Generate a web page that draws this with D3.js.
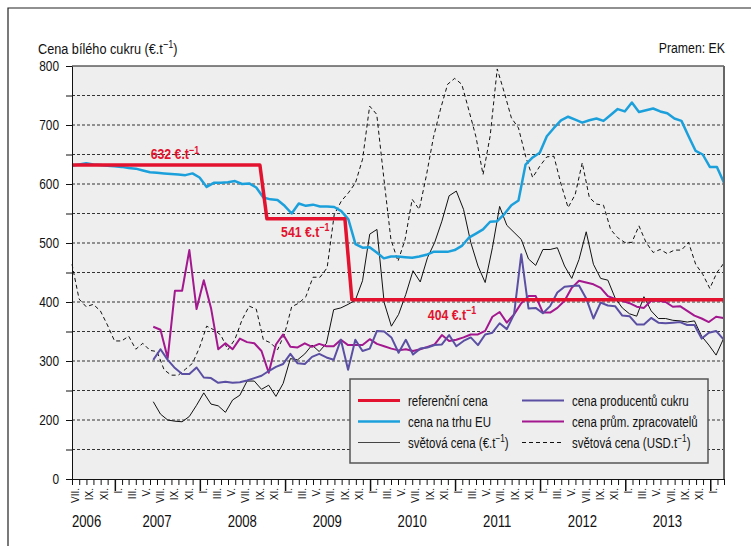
<!DOCTYPE html>
<html>
<head>
<meta charset="utf-8">
<script src="https://cdn.jsdelivr.net/npm/d3@7"></script>
<style>
	body { margin: 0; background: #fff; }
	svg text { font-family: "Liberation Sans", Arial, sans-serif; fill: #111; }
</style>
</head>
<body>
<svg id="chart" width="751" height="546"></svg>
<script>
// reference price (step line), EUR/t
const refDates = ["2006-07-01", "2008-09-15", "2008-10-15", "2009-09-15", "2009-10-15", "2014-03-01"];
const refValues = [632, 632, 541, 541, 404, 404];
const refLabelValues = [632, 541, 404];
const refLabelDates = ["2007-06-04", "2008-12-15", "2010-09-06"];

// monthly series from VII/2006 to III/2014
const euStart = "2006-07-01", euEnd = "2014-03-01";
const euMarketValues = [631, 633, 635, 633, 632, 631, 630, 629, 627, 626, 623, 620, 619, 618, 617, 616, 615, 618, 611, 595,
	602, 602, 603, 605, 600, 601, 594, 577, 574, 573, 563, 550, 567, 563, 565, 562, 562, 561, 554, 540,
	498, 492, 493, 484, 474, 477, 477, 476, 475, 477, 480, 485, 485, 485, 488, 495, 509, 516, 523, 536,
	537, 549, 564, 572, 633, 645, 653, 681, 695, 708, 714, 709, 704, 708, 711, 707, 717, 727, 723, 738,
	722, 725, 728, 723, 720, 711, 707, 681, 656, 650, 629, 629, 602];
const worldUsdValues = [464, 405, 392, 396, 385, 361, 334, 334, 342, 320, 330, 318, 316, 285, 276, 276, 286, 296, 323, 359,
	353, 344, 319, 337, 370, 393, 388, 336, 331, 319, 346, 392, 398, 409, 442, 442, 458, 548, 571, 585,
	602, 642, 732, 718, 610, 506, 469, 506, 574, 557, 614, 679, 727, 769, 779, 769, 725, 680, 616, 681,
	795, 755, 712, 695, 647, 611, 630, 646, 647, 600, 560, 582, 636, 577, 566, 564, 523, 509, 501, 501,
	529, 501, 484, 489, 482, 488, 488, 501, 464, 447, 423, 450, 466];

// series from mid VI/2007 to end of II/2014
const worldStart = "2007-06-15", worldEnd = "2014-02-26";
const worldEurValues = [231, 210, 200, 196, 194, 206, 225, 246, 227, 224, 213, 234, 242, 266, 266, 252, 259, 240, 262, 304,
	302, 312, 327, 316, 330, 387, 390, 396, 403, 436, 515, 523, 399, 359, 379, 413, 453, 434, 475, 501,
	537, 580, 588, 557, 501, 461, 433, 492, 562, 530, 518, 506, 473, 462, 489, 489, 492, 461, 440, 472,
	519, 464, 440, 437, 407, 390, 380, 376, 409, 385, 372, 372, 369, 368, 366, 368, 342, 327, 310, 337];
const producerValues = [302, 320, 302, 288, 278, 278, 289, 272, 271, 263, 265, 263, 264, 267, 271, 275, 283, 290, 295, 312,
	296, 295, 307, 312, 306, 302, 336, 285, 336, 317, 321, 351, 350, 340, 314, 336, 311, 321, 323, 327,
	328, 344, 325, 334, 340, 327, 345, 348, 364, 354, 379, 481, 389, 390, 381, 393, 416, 426, 427, 428,
	406, 372, 399, 394, 393, 377, 376, 362, 362, 373, 365, 364, 365, 366, 361, 361, 338, 348, 351, 337];
const processorValues = [358, 353, 305, 419, 419, 488, 388, 437, 390, 320, 330, 320, 338, 332, 330, 317, 280, 328, 345, 324,
	323, 330, 324, 329, 325, 325, 336, 327, 327, 327, 337, 329, 325, 321, 318, 320, 317, 320, 324, 328,
	344, 334, 336, 340, 345, 345, 351, 375, 383, 365, 379, 398, 410, 410, 382, 382, 390, 402, 424, 436,
	433, 430, 424, 410, 405, 402, 398, 392, 390, 402, 402, 400, 392, 393, 385, 377, 372, 366, 375, 373];

const yTickValues = [0, 200, 300, 400, 500, 600, 700, 800];
const gridValues = [100, 200, 250, 300, 350, 400, 450, 500, 550, 600, 650, 700, 750];
const monthNames = ["I.", "II.", "III.", "IV.", "V.", "VI.", "VII.", "VIII.", "IX.", "X.", "XI.", "XII."];

const legendItems = [
	{ key: "ref", label: "referenční cena" },
	{ key: "eu", label: "cena na trhu EU" },
	{ key: "worldEur", label: "světová cena (€.t^−1^)" },
	{ key: "producer", label: "cena producentů cukru" },
	{ key: "processor", label: "cena prům. zpracovatelů" },
	{ key: "worldUsd", label: "světová cena (USD.t^−1^)" },
];
const styles = {
	ref: { color: "#e3122e", width: 3.5, dash: null },
	eu: { color: "#1ca0dc", width: 2.5, dash: null },
	worldEur: { color: "#111", width: 1, dash: null },
	producer: { color: "#5a4fa3", width: 2, dash: null },
	processor: { color: "#a3178f", width: 2, dash: null },
	worldUsd: { color: "#111", width: 1, dash: "4,3" },
};

const margin = { top: 66, right: 27, bottom: 67, left: 72 };
const fullWidth = 751, fullHeight = 546;
const width = fullWidth - margin.left - margin.right;
const height = fullHeight - margin.top - margin.bottom;
const plotBg = "#edeeed";
const narrow = 0.82; // condensed look, like Arial Narrow

const parse = d3.utcParse("%Y-%m-%d");
const svg = d3.select("#chart");

// place a text at (x, y) with horizontally condensed glyphs
function place(sel, x, y) {
	return sel.attr("transform", "translate(" + x + "," + y + ") scale(" + narrow + ",1)");
}

// rich text: parts between ^ ... ^ are superscript
function richText(sel, str) {
	const parts = str.split("^");
	parts.forEach((p, i) => {
		if (!p) return;
		if (i % 2 == 1)
			sel.append("tspan").attr("font-size", "0.72em").attr("dy", "-0.5em").text(p);
		else
			sel.append("tspan").attr("dy", i > 0 ? "0.36em" : null).text(p);
	});
	return sel;
}

function spread(start, end, values) {
	const t0 = parse(start).getTime(), t1 = parse(end).getTime();
	const step = (t1 - t0) / (values.length - 1);
	return values.map((v, i) => ({ date: new Date(t0 + i * step), value: v }));
}

// outer frame
svg.append("path")
	.attr("d", "M8," + fullHeight + "V8H" + fullWidth)
	.attr("fill", "none")
	.attr("stroke", "#222")
	.attr("stroke-width", 1.2);

svg.append("text")
	.call(place, 38, 54)
	.attr("font-size", 15.5)
	.call(richText, "Cena bílého cukru (€.t^−1^)");
svg.append("text")
	.call(place, 725, 53)
	.attr("text-anchor", "end")
	.attr("font-size", 15)
	.text("Pramen: EK");

const g = svg.append("g")
	.attr("transform", "translate(" + margin.left + "," + margin.top + ")");

const x = d3.scaleUtc()
	.domain([parse(euStart), parse(euEnd)])
	.range([0, width]);
const y = d3.scaleLinear()
	.domain([0, 200, 800])
	.range([height, height - 59, 0]);

g.append("rect")
	.attr("width", width).attr("height", height)
	.attr("fill", plotBg);

// grid
g.selectAll(".grid")
	.data(gridValues)
	.enter()
	.append("line")
	.classed("grid", true)
	.attr("x1", 0).attr("x2", width)
	.attr("y1", d => y(d)).attr("y2", d => y(d))
	.attr("stroke", "#333")
	.attr("stroke-width", 1)
	.attr("stroke-dasharray", "3,2");

// series
const line = d3.line().x(d => x(d.date)).y(d => y(d.value));
const series = [
	{ key: "worldUsd", data: spread(euStart, euEnd, worldUsdValues) },
	{ key: "worldEur", data: spread(worldStart, worldEnd, worldEurValues) },
	{ key: "processor", data: spread(worldStart, worldEnd, processorValues) },
	{ key: "producer", data: spread(worldStart, worldEnd, producerValues) },
	{ key: "eu", data: spread(euStart, euEnd, euMarketValues) },
	{ key: "ref", data: refDates.map((d, i) => ({ date: parse(d), value: refValues[i] })) },
];
g.selectAll(".series")
	.data(series)
	.enter()
	.append("path")
	.classed("series", true)
	.attr("fill", "none")
	.attr("stroke", s => styles[s.key].color)
	.attr("stroke-width", s => styles[s.key].width)
	.attr("stroke-dasharray", s => styles[s.key].dash)
	.attr("stroke-linejoin", "round")
	.attr("d", s => line(s.data));

// reference price labels
const refLabelOffsets = [-6, 18, 20];
refLabelValues.forEach((v, i) => {
	g.append("text")
		.call(place, x(parse(refLabelDates[i])), y(v) + refLabelOffsets[i])
		.attr("font-size", 15)
		.attr("font-weight", "bold")
		.style("fill", styles.ref.color)
		.call(richText, v + " €.t^−1^");
});

// legend
const legend = g.append("g")
	.attr("transform", "translate(" + (350 - margin.left) + "," + (379 - margin.top) + ")");
legend.append("rect")
	.attr("width", 358).attr("height", 84)
	.attr("fill", plotBg)
	.attr("stroke", "#555")
	.attr("stroke-width", 1.5);
const legendRows = legend.selectAll(".legend-item")
	.data(legendItems)
	.enter()
	.append("g")
	.classed("legend-item", true)
	.attr("transform", (d, i) => "translate(" + (Math.floor(i / 3) * 164 + 8) + "," + (21.5 + (i % 3) * 21) + ")");
legendRows.append("line")
	.attr("x1", 0).attr("x2", 42)
	.attr("stroke", d => d.key == "worldEur" ? "#444" : styles[d.key].color)
	.attr("stroke-width", d => Math.min(styles[d.key].width, 3))
	.attr("stroke-dasharray", d => styles[d.key].dash);
legendRows.append("text")
	.call(place, 50, 5)
	.attr("font-size", 14)
	.each(function (d) { richText(d3.select(this), d.label); });

// y axis
const yAxis = d3.axisLeft(y)
	.tickValues(gridValues.concat([0, 800]))
	.tickSize(6)
	.tickSizeOuter(0)
	.tickPadding(4)
	.tickFormat(d => yTickValues.includes(d) ? d : "");
const yAxisGroup = g.append("g").call(yAxis);
yAxisGroup.selectAll("text")
	.attr("x", 0)
	.call(place, -13, 0)
	.attr("font-size", 14.5)
	.attr("font-family", null)
	.style("fill", "#111");
yAxisGroup.selectAll("line, path").attr("stroke", "#111");

// frame top / right
g.append("line").attr("x1", 0).attr("x2", width).attr("stroke", "#111").attr("stroke-width", 1.2);
g.append("line").attr("x1", width).attr("x2", width).attr("y2", height).attr("stroke", "#666").attr("stroke-width", 2);

// x axis: month ticks, longer year ticks
const months = d3.utcMonth.range(parse(euStart), d3.utcDay.offset(parse(euEnd), 1));
const xAxis = d3.axisBottom(x)
	.tickValues(months)
	.tickSize(6)
	.tickSizeOuter(0)
	.tickFormat("");
const xAxisGroup = g.append("g")
	.attr("transform", "translate(0," + height + ")")
	.call(xAxis);
xAxisGroup.selectAll("line, path").attr("stroke", "#111");
xAxisGroup.selectAll(".tick line")
	.attr("y2", d => d.getUTCMonth() == 0 ? 12 : 6)
	.attr("stroke-width", d => d.getUTCMonth() == 0 ? 1.5 : 1);

const labelMonths = months.filter(d => d.getUTCMonth() % 2 == 0 && d < parse(euEnd));
g.selectAll(".month-label")
	.data(labelMonths)
	.enter()
	.append("text")
	.classed("month-label", true)
	.attr("transform", d => {
		const xm = (x(d) + x(d3.utcMonth.offset(d, 1))) / 2;
		return "translate(" + xm + "," + (height + 9) + ") rotate(-90)";
	})
	.attr("dy", "0.35em")
	.attr("text-anchor", "end")
	.attr("font-size", 10)
	.text(d => monthNames[d.getUTCMonth()]);

const years = d3.range(2006, 2014);
g.selectAll(".year-label")
	.data(years)
	.enter()
	.append("text")
	.each(function (d, i) {
		d3.select(this).call(place, i == 0 ? 0 : x(new Date(Date.UTC(d, 6, 1))), height + 48);
	})
	.classed("year-label", true)
	.attr("text-anchor", (d, i) => i == 0 ? "start" : "middle")
	.attr("font-size", 16)
	.text(d => d);
</script>
</body>
</html>
